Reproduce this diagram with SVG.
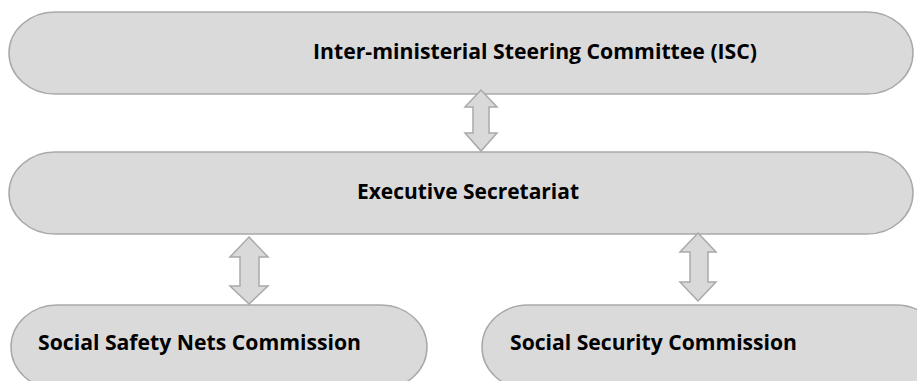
<svg xmlns="http://www.w3.org/2000/svg" width="917" height="381" viewBox="0 0 917 381">
<style>
.box{fill:#dadada;stroke:#a9a9a9;stroke-width:1.5}
.arr{fill:#d9d9d9;stroke:#a9a9a9;stroke-width:1.5;stroke-linejoin:miter}
.t{font-family:"Open Sans","Liberation Sans",sans-serif;font-weight:bold;font-size:22px;fill:#000}
</style>
<rect width="917" height="381" fill="#fff"/>
<g id="isc">
<rect class="box" x="9" y="12" width="904" height="82" rx="46" ry="41"/>
<text class="t" x="313" y="59" textLength="444" lengthAdjust="spacingAndGlyphs">Inter-ministerial Steering Committee (ISC)</text>
</g>
<g id="exec">
<rect class="box" x="9" y="152" width="904" height="82" rx="46" ry="41"/>
<text class="t" x="357" y="199" textLength="222" lengthAdjust="spacingAndGlyphs">Executive Secretariat</text>
</g>
<g id="ssn">
<rect class="box" x="11" y="305" width="416" height="84" rx="46" ry="42"/>
<text class="t" x="38" y="350" textLength="323" lengthAdjust="spacingAndGlyphs">Social Safety Nets Commission</text>
</g>
<g id="ssc">
<rect class="box" x="482" y="305" width="460" height="84" rx="46" ry="42"/>
<text class="t" x="510" y="350" textLength="287" lengthAdjust="spacingAndGlyphs">Social Security Commission</text>
</g>
<g id="connectors">
<polygon class="arr" points="481,90 497,107 489,107 489,133 497,133 481,151 465,133 473,133 473,107 465,107"/>
<polygon class="arr" points="249,237 268,257 259,257 259,286 268,286 249,304 230,286 240,286 240,257 230,257"/>
<polygon class="arr" points="698,233 716,252 708,252 708,282 716,282 698,301 680,282 690,282 690,252 680,252"/>
</g>
</svg>
